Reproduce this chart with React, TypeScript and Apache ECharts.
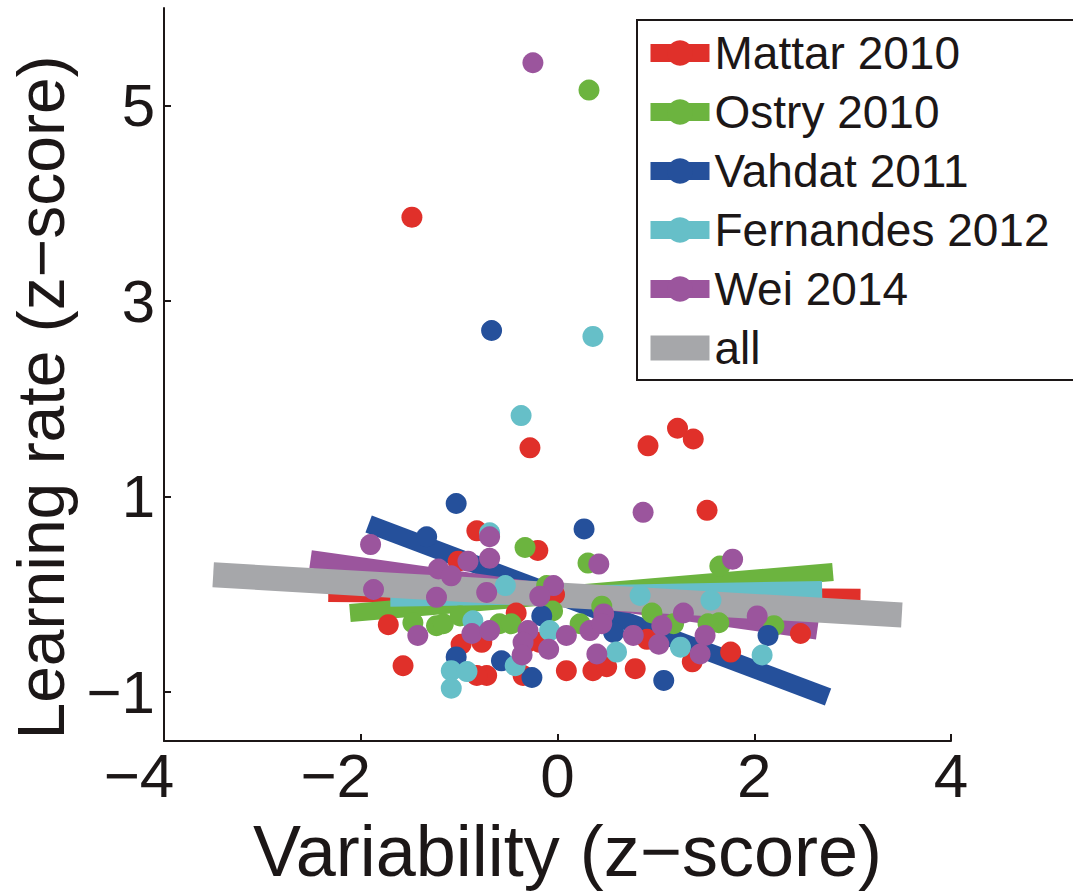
import React, { useEffect, useRef } from 'react';
import * as echarts from 'echarts';

const FONT = '"Liberation Sans", Arial, Helvetica, sans-serif';
const TEXT = '#1c1717';

const studies = ['Mattar 2010', 'Ostry 2010', 'Vahdat 2011', 'Fernandes 2012', 'Wei 2014'];
const studyColors = ['#E0302A', '#6CB43F', '#25509B', '#66BFC8', '#9B559D'];
const allName = 'all';
const allColor = '#A6A7AA';

const xTicks = [-4, -2, 0, 2, 4];
const yTicks = [-1, 1, 3, 5];

// Scatter points (variability z-score, learning rate z-score)
const mattarX = [-1.48, -0.28, 0.92, 1.22, 1.38, 1.52, -0.82, -0.2, -1.01, -0.03, -1.72, -1.57, -0.42, -0.31, -0.18, -0.98, -0.77, 0.91, -0.72, -0.82, -0.35, 0.09, 0.36, 0.5, 0.79, 2.47, 1.76, 1.37];
const mattarY = [3.86, 1.5, 1.52, 1.7, 1.59, 0.86, 0.65, 0.45, 0.34, 0.0, -0.31, -0.73, -0.19, -0.49, -0.49, -0.51, -0.49, -0.46, -0.83, -0.83, -0.83, -0.78, -0.78, -0.74, -0.76, -0.4, -0.59, -0.69];

const ostryX = [0.32, -0.33, 0.31, -0.11, -0.05, -1.47, -1.23, -1.16, -0.99, -0.59, -0.47, 0.23, 0.45, 0.96, 1.18, 1.65, 1.64, 1.53, 2.2];
const ostryY = [5.16, 0.48, 0.32, 0.09, -0.17, -0.29, -0.32, -0.3, -0.22, -0.3, -0.3, -0.3, -0.12, -0.19, -0.3, 0.29, -0.29, -0.3, -0.32];

const vahdatX = [-0.67, -1.03, 0.27, -1.33, -0.16, 0.57, 1.25, -1.03, -0.57, -0.26, 1.08, 2.14];
const vahdatY = [2.7, 0.93, 0.67, 0.59, -0.22, -0.39, -0.52, -0.64, -0.68, -0.85, -0.88, -0.42];

const fernandesX = [0.36, -0.37, -0.69, -0.53, 0.84, -0.86, -0.08, 0.6, 1.25, -0.43, -1.08, -0.92, -1.08, 1.56, 2.08];
const fernandesY = [2.64, 1.83, 0.63, 0.09, -0.01, -0.27, -0.37, -0.59, -0.54, -0.73, -0.78, -0.79, -0.96, -0.06, -0.62];

const weiX = [-0.25, 0.87, -0.69, -0.69, -0.91, -1.9, -1.21, -1.08, -1.87, -1.23, -0.72, -0.04, -0.18, 0.42, -1.42, -0.87, -0.69, -0.3, -0.35, -0.09, 0.09, 0.33, 0.47, 0.45, 0.77, 1.06, 1.03, 1.28, 0.4, -0.36, 1.78, 2.03, 1.5, 1.45];
const weiY = [5.44, 0.84, 0.59, 0.37, 0.34, 0.51, 0.26, 0.19, 0.05, -0.03, 0.02, 0.09, -0.02, 0.31, -0.42, -0.4, -0.37, -0.37, -0.49, -0.56, -0.42, -0.37, -0.2, -0.3, -0.42, -0.32, -0.51, -0.19, -0.61, -0.62, 0.36, -0.22, -0.42, -0.61];

// Regression line end points
const mattarFitX = [-2.33, 3.08];
const mattarFitY = [0.015, -0.035];
const ostryFitX = [-2.11, 2.8];
const ostryFitY = [-0.19, 0.23];
const vahdatFitX = [-1.92, 2.75];
const vahdatFitY = [0.72, -1.05];
const fernandesFitX = [-1.7, 2.69];
const fernandesFitY = [-0.035, 0.045];
const weiFitX = [-2.51, 2.64];
const weiFitY = [0.36, -0.37];
const allFitX = [-3.5, 3.5];
const allFitY = [0.2, -0.21];

const pointsX = [mattarX, ostryX, vahdatX, fernandesX, weiX];
const pointsY = [mattarY, ostryY, vahdatY, fernandesY, weiY];
const fitsX = [mattarFitX, ostryFitX, vahdatFitX, fernandesFitX, weiFitX];
const fitsY = [mattarFitY, ostryFitY, vahdatFitY, fernandesFitY, weiFitY];

const zip = (xs: number[], ys: number[]) => xs.map((x, i) => [x, ys[i]]);
const fmt = (v: number) => (v < 0 ? '\u2212' + Math.abs(v) : String(v));

export default function App() {
  const ref = useRef<HTMLDivElement>(null);

  useEffect(() => {
    if (!ref.current) return;
    const chart = echarts.init(ref.current, undefined, { renderer: 'svg' });

    const lineSeries: any[] = studies.map((name, i) => ({
      type: 'line',
      name,
      data: zip(fitsX[i], fitsY[i]),
      symbol: 'circle',
      symbolSize: 21,
      showSymbol: false,
      silent: true,
      itemStyle: { color: studyColors[i] },
      lineStyle: { color: studyColors[i], width: 18, cap: 'butt' },
      z: 2,
    }));
    lineSeries.push({
      type: 'line',
      name: allName,
      data: zip(allFitX, allFitY),
      symbol: 'none',
      silent: true,
      itemStyle: { color: allColor },
      lineStyle: { color: allColor, width: 25, cap: 'butt' },
      z: 2,
    });

    const scatterSeries = studies.map((name, i) => ({
      type: 'scatter',
      name,
      data: zip(pointsX[i], pointsY[i]),
      symbol: 'circle',
      symbolSize: 21,
      silent: true,
      itemStyle: { color: studyColors[i], opacity: 1 },
      z: 3,
    }));

    const labelStyle = { fontFamily: FONT, fontSize: 62, color: TEXT };

    chart.setOption({
      animation: false,
      backgroundColor: '#ffffff',
      grid: { left: 164, right: 122, top: 8, bottom: 146, containLabel: false },
      legend: {
        data: [...studies.map((name) => ({ name })), { name: allName, itemStyle: { opacity: 0 } }],
        orient: 'vertical',
        left: 637,
        top: 20,
        itemWidth: 59,
        itemHeight: 32,
        itemGap: 13,
        padding: [10, 26, 9, 1],
        borderColor: TEXT,
        borderWidth: 2,
        backgroundColor: '#ffffff',
        selectedMode: false,
        textStyle: { fontFamily: FONT, fontSize: 46, color: TEXT },
        lineStyle: { width: 'inherit' },
      },
      xAxis: {
        type: 'value',
        min: xTicks[0],
        max: xTicks[xTicks.length - 1],
        interval: 2,
        name: 'Variability (z\u2212score)',
        nameLocation: 'middle',
        nameGap: 74,
        nameTextStyle: { fontFamily: FONT, fontSize: 72, color: TEXT, padding: [0, 0, 0, 20] },
        axisLine: { onZero: false, lineStyle: { color: TEXT, width: 2 } },
        axisTick: { inside: true, length: 7, lineStyle: { color: TEXT, width: 2 } },
        splitLine: { show: false },
        axisLabel: {
          margin: 3,
          ...labelStyle,
          formatter: (v: number) => (v < 0 ? `{neg|${fmt(v)}}` : `{pos|${fmt(v)}}`),
          rich: {
            neg: { ...labelStyle, padding: [0, 50, 0, 0] },
            pos: { ...labelStyle },
          },
        },
      },
      yAxis: {
        type: 'value',
        min: -1.5,
        max: 6,
        name: 'Learning rate (z\u2212score)',
        nameLocation: 'middle',
        nameGap: 90,
        nameTextStyle: { fontFamily: FONT, fontSize: 66, color: TEXT, padding: [0, 46, 0, 0] },
        axisLine: { onZero: false, lineStyle: { color: TEXT, width: 2 } },
        axisTick: { inside: true, length: 7, customValues: yTicks, lineStyle: { color: TEXT, width: 2 } },
        splitLine: { show: false },
        axisLabel: {
          margin: 9,
          customValues: yTicks,
          fontFamily: FONT,
          fontSize: 60,
          color: TEXT,
          formatter: (v: number) => fmt(v),
        },
      },
      series: [...lineSeries, ...scatterSeries],
    });

    return () => chart.dispose();
  }, []);

  return (
    <div
      ref={ref}
      style={{ position: 'fixed', left: 0, top: 0, width: 1073, height: 892, background: '#fff' }}
    />
  );
}
